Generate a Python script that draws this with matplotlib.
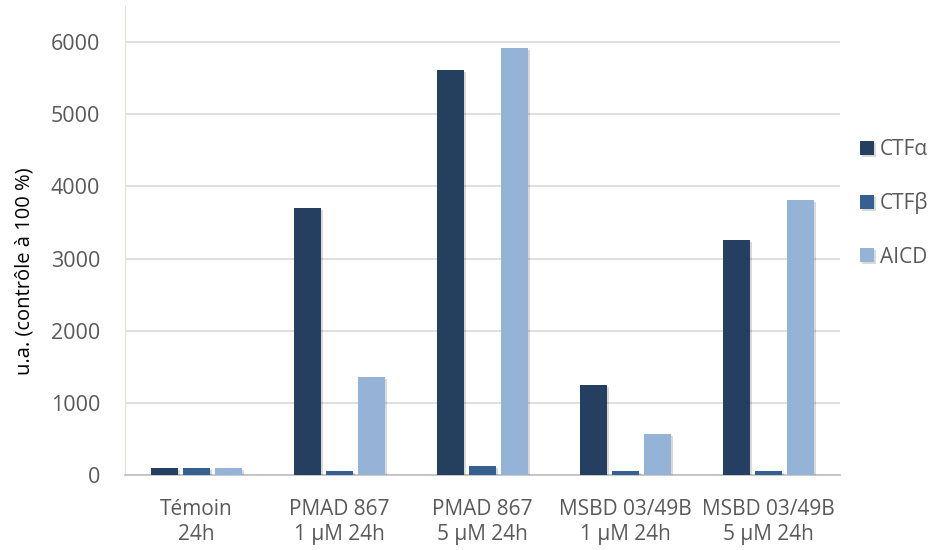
import matplotlib
matplotlib.use("Agg")
import matplotlib.pyplot as plt
import matplotlib.patheffects as pe
import numpy as np

categories = ["Témoin\n24h", "PMAD 867\n1 µM 24h", "PMAD 867\n5 µM 24h",
              "MSBD 03/49B\n1 µM 24h", "MSBD 03/49B\n5 µM 24h"]
series_names = ["CTFα", "CTFβ", "AICD"]
ctf_alpha = [100, 3700, 5610, 1250, 3255]
ctf_beta = [100, 60, 125, 55, 55]
aicd = [100, 1360, 5915, 570, 3810]
colors = ["#243F60", "#366092", "#95B3D7"]
yticks = [0, 1000, 2000, 3000, 4000, 5000, 6000]

plt.rcParams['font.family'] = ['Open Sans', 'DejaVu Sans']
text_color = "#595959"

W, H = 931, 550
fig = plt.figure(figsize=(W/100, H/100), dpi=100)
ax = fig.add_axes([125/W, (H-475)/H, (840-125)/W, (475-6)/H])

x = np.arange(len(categories))
width = 0.19
offset = 0.222
for i, (vals, name, c) in enumerate(zip([ctf_alpha, ctf_beta, aicd], series_names, colors)):
    bars = ax.bar(x + (i - 1) * offset, vals, width, color=c, label=name, zorder=3)
    for b in bars:
        b.set_path_effects([pe.SimplePatchShadow(offset=(1.5, -1.5), shadow_rgbFace="#000000", alpha=0.15),
                            pe.Normal()])

ax.set_xlim(-0.5, len(categories) - 0.5)
ax.set_ylim(0, 6500)
ax.set_yticks(yticks)
ax.set_xticks(x)
ax.set_xticklabels(categories, fontsize=15, color=text_color, linespacing=1.3)
ax.tick_params(axis='y', labelsize=15.5, labelcolor=text_color, length=0, pad=18)
ax.tick_params(axis='x', length=0, pad=17)
ax.yaxis.grid(True, color="#D9D9D9", linewidth=1.2, zorder=0)
ax.set_axisbelow(True)
for s in ["top", "right"]:
    ax.spines[s].set_visible(False)
ax.spines["left"].set_color("#E6E0D4")
ax.spines["bottom"].set_color("#BFBFBF")
ax.spines["bottom"].set_linewidth(1.2)

fig.text(25/W, 1 - 271/H, "u.a. (contrôle à 100 %)", rotation=90, fontsize=14.5,
         color="#000000", ha="center", va="center")

handles, labels = ax.get_legend_handles_labels()
leg = fig.legend(handles, labels, loc="upper left", bbox_to_anchor=(860/W, 1 - 139/H),
                 frameon=False, fontsize=15, labelspacing=1.55, handlelength=0.65,
                 handleheight=0.65, handletextpad=0.3, borderaxespad=0, borderpad=0)
for t in leg.get_texts():
    t.set_color(text_color)

fig.savefig("out.png", dpi=100)
